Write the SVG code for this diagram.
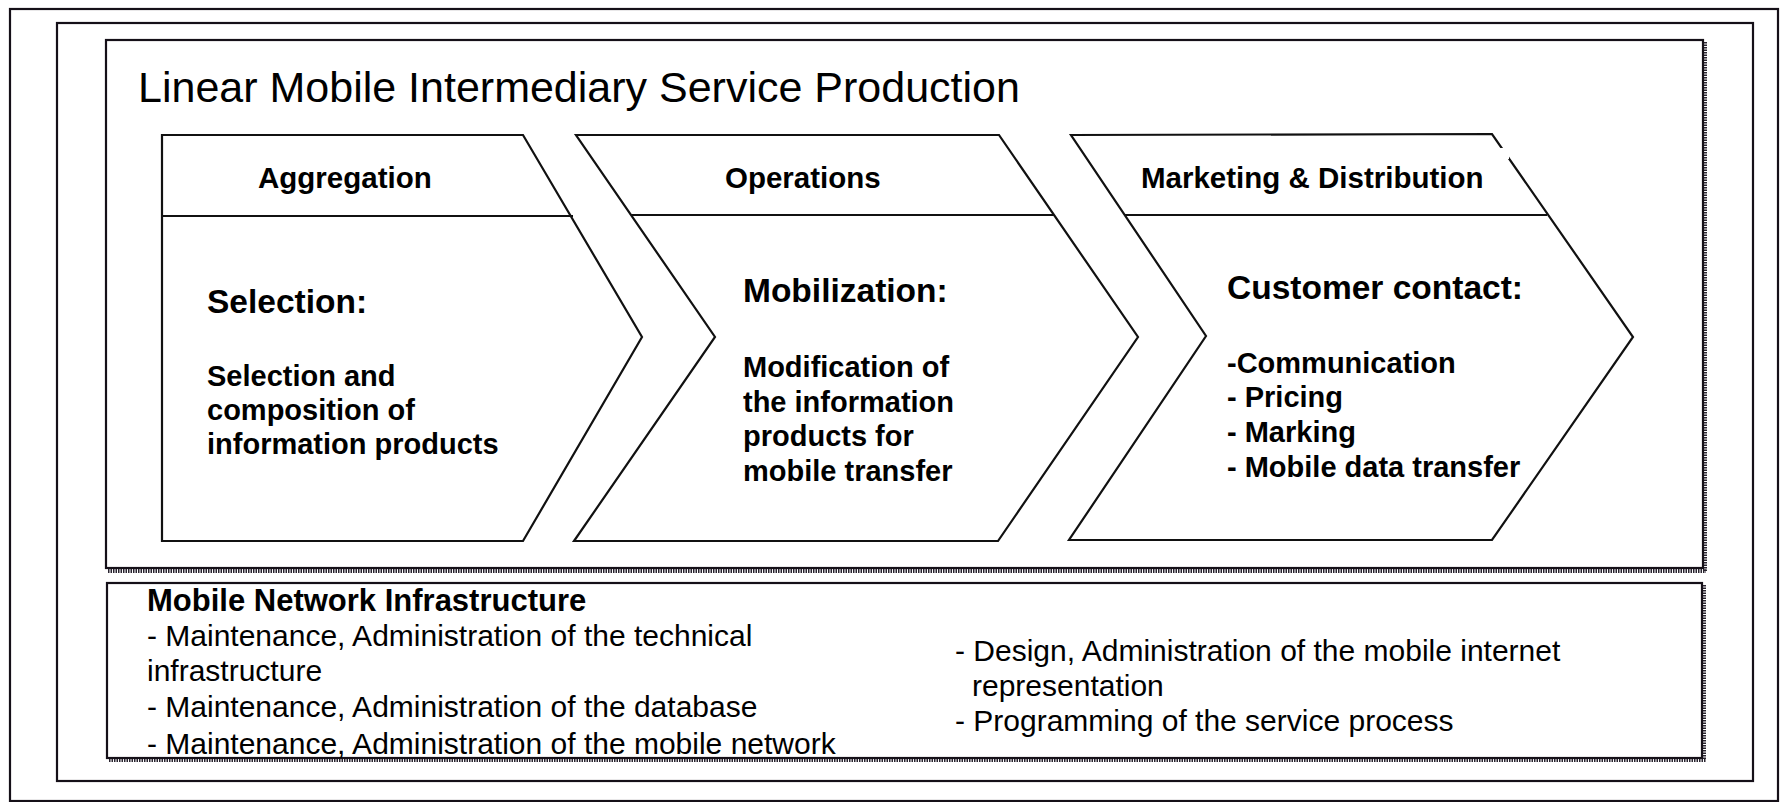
<svg xmlns="http://www.w3.org/2000/svg" width="1780" height="802" viewBox="0 0 1780 802">
  <style>
    .frame { fill: none; stroke: #151018; stroke-width: 2.2; }
    .shadow { fill: none; stroke: #2a2530; stroke-width: 4; stroke-dasharray: 1.5 1; }
    .chev { fill: #ffffff; stroke: #111; stroke-width: 2.2; stroke-linejoin: miter; }
    .div { stroke: #111; stroke-width: 2.2; }
    .title { font-family: "Liberation Sans", Arial, sans-serif; font-size: 43px; fill: #000; }
    .head { font-family: "Liberation Sans", Arial, sans-serif; font-weight: bold; font-size: 29.5px; fill: #000; }
    .big { font-family: "Liberation Sans", Arial, sans-serif; font-weight: bold; font-size: 33.5px; fill: #000; }
    .body { font-family: "Liberation Sans", Arial, sans-serif; font-weight: bold; font-size: 29px; fill: #000; }
    .infra { font-family: "Liberation Sans", Arial, sans-serif; font-size: 30px; fill: #000; }
    .infrah { font-family: "Liberation Sans", Arial, sans-serif; font-weight: bold; font-size: 31px; fill: #000; }
  </style>
  <rect width="1780" height="802" fill="#ffffff"/>

  <g id="outer-frame">
    <rect class="frame" x="10" y="9" width="1768" height="792"/>
  </g>
  <g id="container-frame">
    <rect class="frame" x="57" y="23" width="1696" height="758" stroke-width="2.6"/>
  </g>

  <g id="production-box">
    <line class="shadow" x1="108" y1="571" x2="1706" y2="571"/>
    <line class="shadow" x1="1705" y1="42" x2="1705" y2="571"/>
    <rect class="frame" x="106" y="40" width="1597" height="528"/>
    <text class="title" x="138" y="102">Linear Mobile Intermediary Service Production</text>
  </g>

  <g id="chevron-aggregation">
    <polygon class="chev" points="162,135 523,135 642,337 523,541 162,541"/>
    <line class="div" x1="162" y1="216" x2="573" y2="216"/>
    <text class="head" x="258" y="188">Aggregation</text>
    <text class="big" x="207" y="313">Selection:</text>
    <text class="body" x="207" y="386">Selection and</text>
    <text class="body" x="207" y="420">composition of</text>
    <text class="body" x="207" y="454">information products</text>
  </g>

  <g id="chevron-operations">
    <polygon class="chev" points="576,135 999,135 1138,337 998,541 574,541 715,337"/>
    <line class="div" x1="631" y1="215" x2="1054" y2="215"/>
    <text class="head" x="725" y="188">Operations</text>
    <text class="big" x="743" y="302">Mobilization:</text>
    <text class="body" x="743" y="377">Modification of</text>
    <text class="body" x="743" y="411.5">the information</text>
    <text class="body" x="743" y="446">products for</text>
    <text class="body" x="743" y="480.5">mobile transfer</text>
  </g>

  <g id="chevron-marketing">
    <polygon class="chev" points="1071,135 1492,134 1633,337 1492,540 1069,540 1206,336"/>
    <line class="div" x1="1124" y1="215" x2="1547" y2="215"/>
    <rect x="1500" y="148" width="9" height="11" fill="#ffffff"/>
    <text class="head" x="1141" y="188">Marketing &amp; Distribution</text>
    <text class="big" x="1227" y="299">Customer contact:</text>
    <text class="body" x="1227" y="373">-Communication</text>
    <text class="body" x="1227" y="407">- Pricing</text>
    <text class="body" x="1227" y="442">- Marking</text>
    <text class="body" x="1227" y="477">- Mobile data transfer</text>
  </g>

  <g id="infrastructure-box">
    <line class="shadow" x1="109" y1="760" x2="1706" y2="760"/>
    <line class="shadow" x1="1704" y1="585" x2="1704" y2="760"/>
    <rect class="frame" x="107" y="583" width="1595" height="175"/>
    <text class="infrah" x="147" y="611">Mobile Network Infrastructure</text>
    <text class="infra" x="147" y="646">- Maintenance, Administration of the technical</text>
    <text class="infra" x="147" y="681">infrastructure</text>
    <text class="infra" x="147" y="717">- Maintenance, Administration of the database</text>
    <text class="infra" x="147" y="754">- Maintenance, Administration of the mobile network</text>
    <text class="infra" x="955" y="661">- Design, Administration of the mobile internet</text>
    <text class="infra" x="972" y="696">representation</text>
    <text class="infra" x="955" y="731">- Programming of the service process</text>
  </g>

  <g id="connectors"></g>
</svg>
